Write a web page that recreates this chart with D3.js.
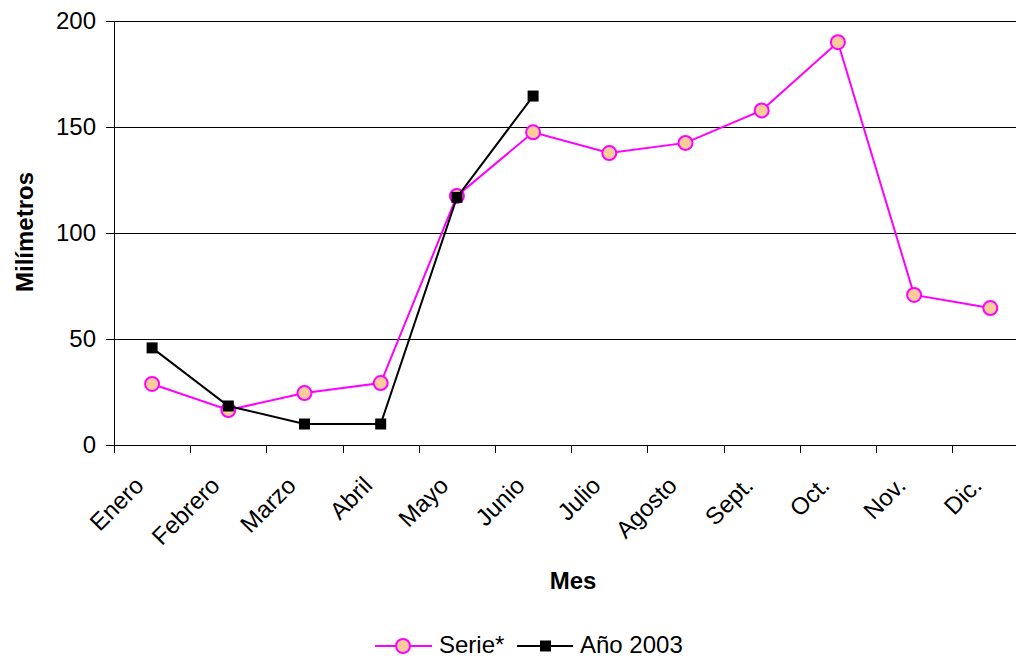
<!DOCTYPE html>
<html>
<head>
<meta charset="utf-8">
<script src="https://cdn.jsdelivr.net/npm/d3@7"></script>
<style>
    body { margin: 0; background: #fff; }
    text { font-family: Arial, "Liberation Sans", sans-serif; fill: #000; }
</style>
</head>
<body>
<div id="chart"></div>
<script>
    "use strict";

    // meses y valores
    var months = ["Enero", "Febrero", "Marzo", "Abril", "Mayo", "Junio",
        "Julio", "Agosto", "Sept.", "Oct.", "Nov.", "Dic."];
    var serieValues = [28.8, 16.5, 24.5, 29.2, 117.5, 147.5, 137.7, 142.5, 157.8, 190, 70.8, 64.6];
    var ano2003Values = [45.8, 18.4, 9.9, 9.9, 116.8, 164.6];
    var yTicks = [0, 50, 100, 150, 200];
    var seriesNames = ["Serie*", "Año 2003"];

    var width = 1016;
    var height = 658;
    var plotLeft = 114, plotTop = 21, plotBottom = 445;
    var bandW = 76.2;

    var svg = d3.select("#chart").append("svg")
        .attr("width", width)
        .attr("height", height);

    var x = d3.scaleBand()
        .domain(months)
        .range([plotLeft, plotLeft + bandW * months.length]);

    var y = d3.scaleLinear()
        .domain([0, 200])
        .range([plotBottom, plotTop]);

    function cx(i) { return x(months[i]) + x.bandwidth() / 2; }

    // grid lines
    svg.append("g")
        .selectAll("line")
        .data(yTicks.filter(function (d) { return d > 0; }))
        .enter().append("line")
        .attr("x1", plotLeft).attr("x2", width)
        .attr("y1", function (d) { return y(d); })
        .attr("y2", function (d) { return y(d); })
        .attr("stroke", "#000")
        .attr("stroke-width", 1)
        .attr("shape-rendering", "crispEdges");

    // y axis
    var yAxis = svg.append("g")
        .attr("transform", "translate(" + plotLeft + ",0)")
        .call(d3.axisLeft(y).tickValues(yTicks).tickSize(8).tickPadding(10).tickSizeOuter(0));
    yAxis.select(".domain").attr("shape-rendering", "crispEdges");
    yAxis.selectAll(".tick line").attr("shape-rendering", "crispEdges");
    yAxis.selectAll("text").attr("font-size", 24).attr("font-family", null);

    // x axis
    var xAxis = svg.append("g")
        .attr("transform", "translate(0," + plotBottom + ")")
        .call(d3.axisBottom(x).tickSize(0).tickSizeOuter(0));
    xAxis.select(".domain").remove();
    svg.append("line")
        .attr("x1", plotLeft).attr("x2", width)
        .attr("y1", plotBottom).attr("y2", plotBottom)
        .attr("stroke", "#000")
        .attr("shape-rendering", "crispEdges");
    // tick marks between categories
    svg.append("g")
        .selectAll("line")
        .data(d3.range(months.length + 1))
        .enter().append("line")
        .attr("x1", function (i) { return Math.round(plotLeft + bandW * i) + 0.5; })
        .attr("x2", function (i) { return Math.round(plotLeft + bandW * i) + 0.5; })
        .attr("y1", plotBottom).attr("y2", plotBottom + 8)
        .attr("stroke", "#000");

    xAxis.selectAll("text")
        .attr("font-size", 24)
        .attr("font-family", null)
        .attr("text-anchor", "end")
        .attr("y", 0)
        .attr("dy", 0)
        .attr("transform", "translate(-7,42) rotate(-45)");

    // series
    var line = d3.line()
        .x(function (d, i) { return cx(i); })
        .y(function (d) { return y(d); });

    svg.append("path")
        .datum(serieValues)
        .attr("d", line)
        .attr("fill", "none")
        .attr("stroke", "#FF00FF")
        .attr("stroke-width", 2);

    svg.append("g")
        .selectAll("circle")
        .data(serieValues)
        .enter().append("circle")
        .attr("cx", function (d, i) { return cx(i); })
        .attr("cy", function (d) { return y(d); })
        .attr("r", 7)
        .attr("fill", "#FFCC99")
        .attr("stroke", "#FF00FF")
        .attr("stroke-width", 2);

    svg.append("path")
        .datum(ano2003Values)
        .attr("d", line)
        .attr("fill", "none")
        .attr("stroke", "#000")
        .attr("stroke-width", 2);

    svg.append("g")
        .selectAll("rect")
        .data(ano2003Values)
        .enter().append("rect")
        .attr("x", function (d, i) { return cx(i) - 5.5; })
        .attr("y", function (d) { return y(d) - 5.5; })
        .attr("width", 11)
        .attr("height", 11)
        .attr("fill", "#000");

    // axis titles
    svg.append("text")
        .attr("transform", "translate(33,232) rotate(-90)")
        .attr("text-anchor", "middle")
        .attr("font-size", 24)
        .attr("font-weight", "bold")
        .text("Milímetros");

    svg.append("text")
        .attr("x", 573)
        .attr("y", 589)
        .attr("text-anchor", "middle")
        .attr("font-size", 24)
        .attr("font-weight", "bold")
        .text("Mes");

    // legend
    var legend = svg.append("g").attr("transform", "translate(0,646)");
    legend.append("line")
        .attr("x1", 375).attr("x2", 432)
        .attr("stroke", "#FF00FF").attr("stroke-width", 2);
    legend.append("circle")
        .attr("cx", 403).attr("r", 7)
        .attr("fill", "#FFCC99").attr("stroke", "#FF00FF").attr("stroke-width", 2);
    legend.append("text")
        .attr("x", 439).attr("y", 7)
        .attr("font-size", 24)
        .text(seriesNames[0]);
    legend.append("line")
        .attr("x1", 517).attr("x2", 573)
        .attr("stroke", "#000").attr("stroke-width", 2);
    legend.append("rect")
        .attr("x", 540).attr("y", -5.5).attr("width", 11).attr("height", 11)
        .attr("fill", "#000");
    legend.append("text")
        .attr("x", 580).attr("y", 7)
        .attr("font-size", 24)
        .text(seriesNames[1]);
</script>
</body>
</html>
